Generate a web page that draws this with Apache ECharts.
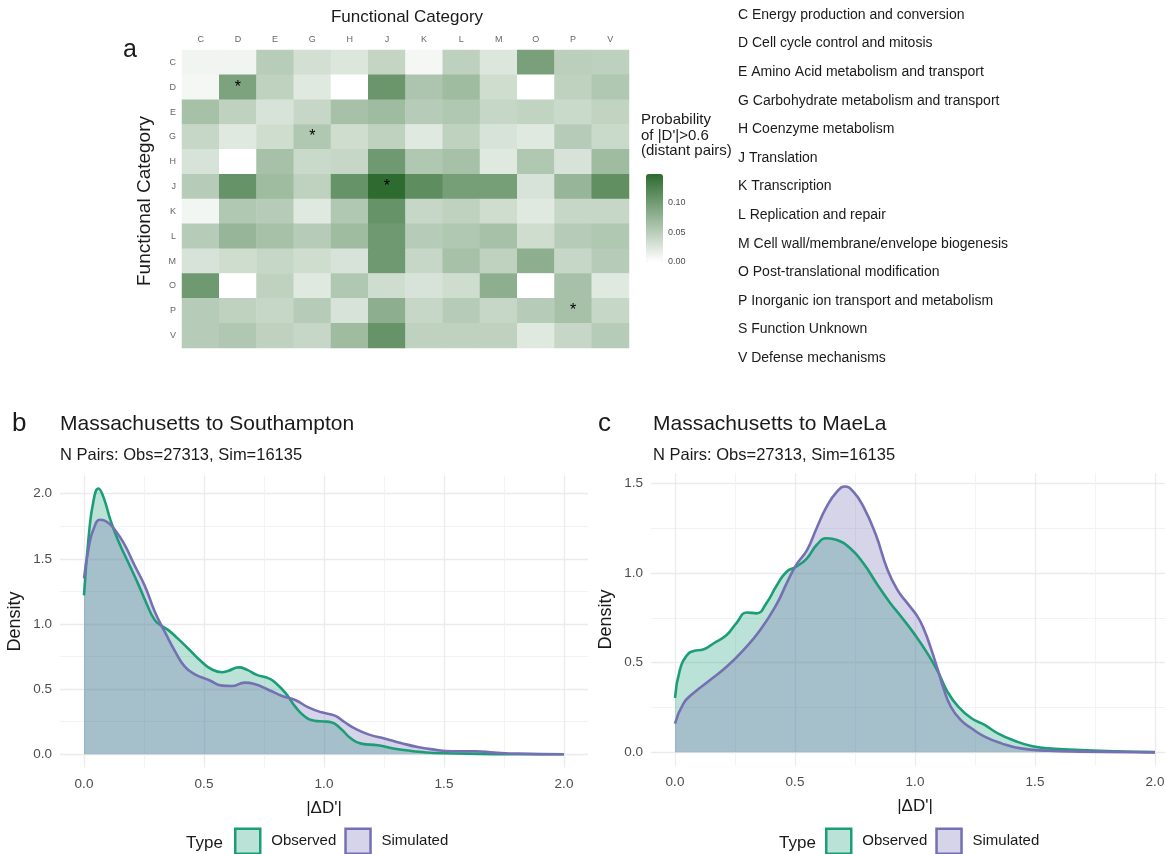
<!DOCTYPE html>
<html><head><meta charset="utf-8">
<script src="https://cdn.jsdelivr.net/npm/echarts@6/dist/echarts.min.js"></script>
<style>html,body{margin:0;padding:0;background:#fff}#c{width:1165px;height:854px}</style>
</head><body><div id="c"></div>
<script>
const FONT = "'Liberation Sans', Arial, Helvetica, sans-serif";

// ---- Panel a: heatmap ----
const categories = ['C','D','E','G','H','J','K','L','M','O','P','V'];
const rowC = [0.010,0.010,0.050,0.032,0.025,0.042,0.008,0.046,0.025,0.095,0.048,0.046];
const rowD = [0.008,0.092,0.045,0.022,0.000,0.105,0.058,0.068,0.034,0.000,0.045,0.056];
const rowE = [0.062,0.045,0.028,0.040,0.062,0.068,0.051,0.056,0.040,0.044,0.038,0.044];
const rowG = [0.040,0.022,0.034,0.056,0.034,0.045,0.022,0.045,0.028,0.022,0.051,0.038];
const rowH = [0.028,0.000,0.062,0.038,0.040,0.102,0.056,0.062,0.022,0.056,0.028,0.068];
const rowJ = [0.051,0.108,0.068,0.045,0.108,0.148,0.114,0.097,0.097,0.028,0.074,0.112];
const rowK = [0.009,0.056,0.051,0.022,0.056,0.108,0.040,0.045,0.034,0.022,0.040,0.040];
const rowL = [0.051,0.074,0.062,0.051,0.068,0.102,0.051,0.056,0.062,0.034,0.051,0.056];
const rowM = [0.028,0.034,0.040,0.034,0.028,0.102,0.040,0.062,0.045,0.080,0.040,0.051];
const rowO = [0.102,0.000,0.045,0.022,0.056,0.034,0.028,0.034,0.080,0.000,0.062,0.022];
const rowP = [0.051,0.045,0.040,0.051,0.028,0.080,0.040,0.051,0.040,0.051,0.062,0.040];
const rowV = [0.051,0.056,0.045,0.040,0.068,0.108,0.045,0.045,0.045,0.022,0.040,0.051];
const starCells = [['D','D'],['G','G'],['J','J'],['P','P']];
const colorbarTicks = [0, 0.05, 0.10];
const colorMax = 0.148;
const cogLabels = [
  'C Energy production and conversion',
  'D Cell cycle control and mitosis',
  'E Amino Acid metabolism and transport',
  'G Carbohydrate metabolism and transport',
  'H Coenzyme metabolism',
  'J Translation',
  'K Transcription',
  'L Replication and repair',
  'M Cell wall/membrane/envelope biogenesis',
  'O Post-translational modification',
  'P Inorganic ion transport and metabolism',
  'S Function Unknown',
  'V Defense mechanisms'
];

// ---- Panel b: Massachusetts to Southampton ----
const bObsX = [0,0.02,0.04,0.06,0.08,0.11,0.14,0.185,0.225,0.26,0.295,0.325,0.35,0.39,0.435,0.49,0.53,0.575,0.60,0.645,0.68,0.72,0.77,0.80,0.84,0.88,0.92,0.96,1.0,1.03,1.07,1.11,1.155,1.225,1.295,1.365,1.46,1.6,1.75,2.0];
const bObsY = [1.22,1.68,1.95,2.04,1.98,1.80,1.65,1.47,1.31,1.16,1.03,0.985,0.955,0.89,0.81,0.71,0.655,0.63,0.64,0.667,0.648,0.61,0.583,0.545,0.47,0.366,0.29,0.258,0.252,0.246,0.197,0.125,0.082,0.069,0.043,0.026,0.01,0.005,0.001,0];
const bSimX = [0,0.02,0.04,0.067,0.095,0.13,0.17,0.21,0.255,0.295,0.34,0.38,0.42,0.46,0.52,0.575,0.615,0.67,0.71,0.77,0.825,0.88,0.935,0.99,1.045,1.085,1.13,1.185,1.255,1.32,1.39,1.46,1.53,1.63,1.71,1.81,2.0];
const bSimY = [1.35,1.59,1.73,1.80,1.785,1.72,1.606,1.453,1.286,1.095,0.928,0.788,0.673,0.616,0.57,0.527,0.524,0.55,0.54,0.494,0.448,0.417,0.36,0.322,0.297,0.248,0.197,0.153,0.12,0.087,0.056,0.036,0.023,0.023,0.013,0.005,0.001];

// ---- Panel c: Massachusetts to MaeLa ----
const cObsX = [0,0.02,0.05,0.075,0.12,0.16,0.215,0.255,0.30,0.34,0.38,0.425,0.465,0.505,0.55,0.59,0.632,0.675,0.73,0.785,0.84,0.895,0.945,1.0,1.055,1.095,1.135,1.18,1.235,1.29,1.345,1.415,1.485,1.555,1.69,1.83,2.0];
const cObsY = [0.304,0.458,0.542,0.564,0.575,0.607,0.654,0.719,0.78,0.775,0.83,0.933,1.007,1.035,1.082,1.156,1.194,1.184,1.138,1.054,0.942,0.836,0.752,0.655,0.545,0.451,0.339,0.255,0.19,0.153,0.106,0.065,0.035,0.022,0.013,0.006,0.001];
const cSimX = [0,0.035,0.075,0.145,0.215,0.285,0.355,0.425,0.465,0.505,0.55,0.59,0.632,0.675,0.708,0.743,0.785,0.835,0.885,0.926,0.968,1.01,1.038,1.066,1.093,1.121,1.149,1.19,1.235,1.29,1.36,1.44,1.555,1.69,2.0];
const cSimY = [0.16,0.272,0.328,0.402,0.477,0.57,0.682,0.83,0.942,1.045,1.128,1.25,1.37,1.454,1.482,1.454,1.37,1.22,1.02,0.907,0.832,0.758,0.683,0.581,0.469,0.348,0.255,0.181,0.134,0.088,0.05,0.022,0.009,0.004,0];

const xMajor = [0,0.5,1,1.5,2];
const xMinor = [0.25,0.75,1.25,1.75];
const bYMajor = [0,0.5,1,1.5,2];
const bYMinor = [0.25,0.75,1.25,1.75];
const cYMajor = [0,0.5,1,1.5];
const cYMinor = [0.25,0.75,1.25];

const OBS = '#1b9e77', SIM = '#7570b3';
const seriesNames = ['Observed','Simulated'];

// ---- build ----
const matrix = [rowC,rowD,rowE,rowG,rowH,rowJ,rowK,rowL,rowM,rowO,rowP,rowV];
const heatData = [];
matrix.forEach((row, r) => row.forEach((v, c) => heatData.push([c, r, v])));
const starSet = new Set(starCells.map(s => s[0] + s[1]));
const zip = (xs, ys) => xs.map((x, i) => [x, ys[i]]);

const chart = echarts.init(document.getElementById('c'), null, {renderer: 'canvas'});

function majorAxis(gridIndex, min, max, ticks, isX, name, nameGap) {
  return {
    type: 'value', gridIndex, min, max,
    axisLine: {show: false},
    axisTick: {show: false, customValues: ticks},
    axisLabel: {customValues: ticks, formatter: v => v.toFixed(1), fontSize: 13.5, color: '#4d4d4d', fontFamily: FONT, margin: isX ? 10 : 8},
    splitLine: {show: true, lineStyle: {color: '#ebebeb', width: 1.3}},
    name, nameLocation: 'middle', nameGap,
    nameTextStyle: {fontSize: isX ? 17 : 18, color: '#1a1a1a', fontFamily: FONT}
  };
}
function minorAxis(gridIndex, min, max, ticks) {
  return {
    type: 'value', gridIndex, min, max,
    axisLine: {show: false},
    axisTick: {show: false, customValues: ticks},
    axisLabel: {show: false, customValues: ticks},
    splitLine: {show: true, lineStyle: {color: '#f2f2f2', width: 0.9}}
  };
}
function densitySeries(name, color, xi, yi, xs, ys) {
  return {
    type: 'line', name, xAxisIndex: xi, yAxisIndex: yi,
    data: zip(xs, ys), smooth: 0.5,
    showSymbol: false, symbol: 'none', silent: true,
    lineStyle: {color, width: 2.6, join: 'round'},
    itemStyle: {color},
    areaStyle: {color, opacity: 0.3}
  };
}
function legendFor(left) {
  return {
    left, top: 827.5, padding: 0, orient: 'horizontal',
    itemWidth: 25, itemHeight: 25, itemGap: 8, icon: 'rect',
    selectedMode: false,
    textStyle: {fontSize: 15, color: '#1a1a1a', fontFamily: FONT, padding: [0,0,0,6]},
    data: [
      {name: seriesNames[0], icon: 'rect', itemStyle: {color: 'rgba(27,158,119,0.3)', borderColor: OBS, borderWidth: 2.5}},
      {name: seriesNames[1], icon: 'rect', itemStyle: {color: 'rgba(117,112,179,0.3)', borderColor: SIM, borderWidth: 2.5}}
    ]
  };
}
function txt(x, y, text, size, opts) {
  opts = opts || {};
  return {
    type: 'text', x, y, rotation: opts.rotation || 0, silent: true,
    style: {text, fontSize: size, fontFamily: FONT, fill: opts.fill || '#1a1a1a',
            align: opts.align || 'left', verticalAlign: 'middle'}
  };
}

const cbTop = 174, cbHeight = 88;
const graphics = [
  txt(407, 17, 'Functional Category', 17, {align: 'center'}),
  txt(123, 50, 'a', 25),
  txt(145, 201, 'Functional Category', 19, {align: 'center', rotation: Math.PI / 2}),
  txt(641, 120, 'Probability', 15),
  txt(641, 135.5, "of |D'|>0.6", 15),
  txt(641, 151, '(distant pairs)', 15),
  txt(12, 424, 'b', 26),
  txt(60, 424, 'Massachusetts to Southampton', 21),
  txt(60, 455, 'N Pairs: Obs=27313, Sim=16135', 16.5),
  txt(598, 424, 'c', 26),
  txt(653, 424, 'Massachusetts to MaeLa', 21),
  txt(653, 455, 'N Pairs: Obs=27313, Sim=16135', 16.5),
  txt(186, 843, 'Type', 17),
  txt(779, 843, 'Type', 17)
];
cogLabels.forEach((s, i) => graphics.push(txt(738, 15 + i * 28.6, s, 14)));
colorbarTicks.forEach(v => graphics.push(
  txt(668, cbTop + cbHeight * (1 - v / colorMax), v.toFixed(2), 9, {fill: '#4d4d4d'})
));

const option = {
  animation: false,
  backgroundColor: '#fff',
  textStyle: {fontFamily: FONT},
  grid: [
    {left: 182, top: 50, width: 447, height: 298, outerBoundsMode: 'none', containLabel: false},
    {left: 60, top: 475.5, width: 528, height: 292.1, outerBoundsMode: 'none', containLabel: false},
    {left: 651, top: 473.3, width: 528, height: 292.3, outerBoundsMode: 'none', containLabel: false}
  ],
  xAxis: [
    {type: 'category', gridIndex: 0, data: categories, position: 'top',
     axisLine: {show: false}, axisTick: {show: false}, splitLine: {show: false},
     axisLabel: {fontSize: 9, color: '#666', fontFamily: FONT, margin: 6}},
    majorAxis(1, -0.1, 2.1, xMajor, true, "|ΔD'|", 32),
    minorAxis(1, -0.1, 2.1, xMinor),
    majorAxis(2, -0.1, 2.1, xMajor, true, "|ΔD'|", 32),
    minorAxis(2, -0.1, 2.1, xMinor)
  ],
  yAxis: [
    {type: 'category', gridIndex: 0, data: categories, inverse: true,
     axisLine: {show: false}, axisTick: {show: false}, splitLine: {show: false},
     axisLabel: {fontSize: 9, color: '#666', fontFamily: FONT, margin: 6}},
    majorAxis(1, -0.102, 2.14, bYMajor, false, 'Density', 36),
    minorAxis(1, -0.102, 2.14, bYMinor),
    majorAxis(2, -0.074, 1.556, cYMajor, false, 'Density', 36),
    minorAxis(2, -0.074, 1.556, cYMinor)
  ],
  visualMap: {
    type: 'continuous', seriesIndex: 0, min: 0, max: colorMax,
    calculable: false, orient: 'vertical', left: 646, top: cbTop,
    itemWidth: 17, itemHeight: cbHeight, padding: 0, text: null,
    showLabel: false, hoverLink: false,
    inRange: {color: ['#ffffff', '#2e6b30']}
  },
  legend: [legendFor(234), legendFor(825)],
  series: [
    {type: 'heatmap', xAxisIndex: 0, yAxisIndex: 0, data: heatData, silent: true,
     itemStyle: {borderWidth: 0},
     label: {show: true, fontSize: 16, color: '#000', fontFamily: FONT,
       formatter: p => starSet.has(categories[p.value[1]] + categories[p.value[0]]) ? '*' : ''}},
    densitySeries(seriesNames[0], OBS, 1, 1, bObsX, bObsY),
    densitySeries(seriesNames[1], SIM, 1, 1, bSimX, bSimY),
    densitySeries(seriesNames[0], OBS, 3, 3, cObsX, cObsY),
    densitySeries(seriesNames[1], SIM, 3, 3, cSimX, cSimY)
  ],
  graphic: graphics
};
chart.setOption(option);
</script>
</body></html>
